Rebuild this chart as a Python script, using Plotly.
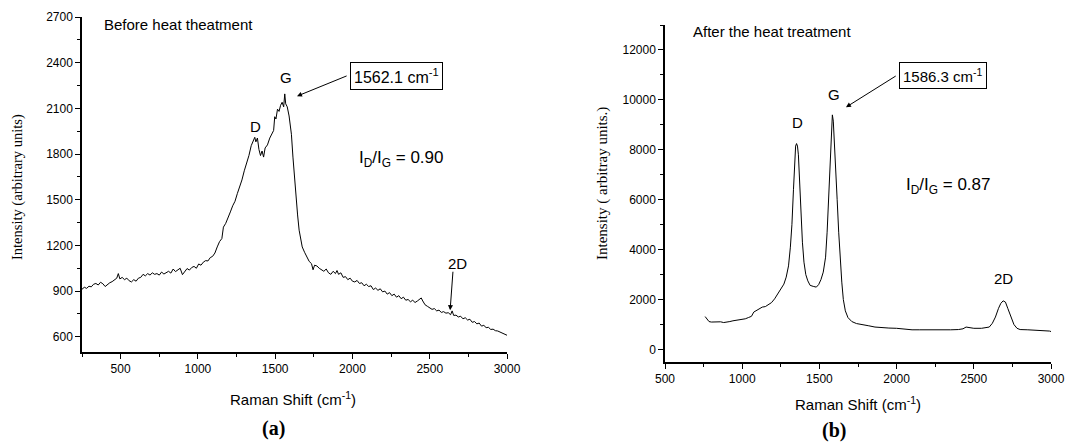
import plotly.graph_objects as go

# (a) before heat treatment
shift_a = [250, 265, 280, 295, 310, 325, 340, 355, 370, 385, 400, 415, 430, 445, 460, 475, 485, 495,
           510, 525, 540, 555, 570, 585, 600, 615, 630, 645, 660, 675, 690, 705, 720, 735, 750, 765,
           780, 795, 810, 825, 840, 855, 870, 885, 900, 915, 930, 945, 960, 975, 990, 1005, 1020,
           1035, 1050, 1065, 1080, 1095, 1110, 1125, 1140, 1155, 1165, 1180, 1195, 1210, 1225, 1240,
           1255, 1270, 1285, 1300, 1315, 1330, 1345, 1360, 1368, 1375, 1385, 1395, 1405, 1415, 1425,
           1435, 1450, 1465, 1480, 1490, 1497, 1505, 1515, 1525, 1535, 1545, 1555, 1562, 1568, 1578,
           1590, 1598, 1605, 1615, 1625, 1635, 1645, 1655, 1665, 1675, 1690, 1705, 1720, 1735, 1745,
           1755, 1770, 1785, 1800, 1815, 1830, 1845, 1860, 1875, 1890, 1900, 1910, 1925, 1940, 1955,
           1970, 1985, 2000, 2015, 2030, 2045, 2060, 2075, 2090, 2105, 2120, 2135, 2150, 2165, 2180,
           2195, 2210, 2225, 2240, 2255, 2270, 2285, 2300, 2315, 2330, 2345, 2360, 2375, 2390, 2405,
           2420, 2435, 2445, 2455, 2470, 2485, 2500, 2515, 2530, 2545, 2560, 2575, 2590, 2605, 2620,
           2635, 2645, 2655, 2670, 2685, 2700, 2715, 2730, 2745, 2760, 2775, 2790, 2805, 2820, 2835,
           2850, 2865, 2880, 2895, 2910, 2925, 2940, 2955, 2970, 2985, 3000]
intensity_a = [912, 925, 918, 932, 928, 945, 950, 940, 958, 948, 930, 945, 955, 962, 975, 985, 1015, 980,
               990, 975, 985, 968, 960, 975, 965, 985, 990, 1010, 1000, 1015, 1005, 1020, 1010, 1015, 1005, 1025,
               1012, 1020, 1030, 1018, 1045, 1028, 1040, 1050, 1008, 1030, 1048, 1038, 1055, 1062, 1050, 1078, 1070,
               1090, 1100, 1098, 1120, 1128, 1150, 1190, 1225, 1245, 1320, 1345, 1390, 1420, 1460, 1490,
               1540, 1580, 1630, 1690, 1735, 1790, 1855, 1895, 1910, 1880, 1905, 1830, 1790, 1820, 1780,
               1840, 1860, 1905, 1940, 1955, 2045, 2030, 2095, 2080, 2120, 2140, 2110, 2195, 2130, 2110,
               2050, 2000, 1930, 1780, 1640, 1520, 1400, 1300, 1240, 1190, 1155, 1120, 1095, 1080, 1040,
               1070, 1065, 1050, 1040, 1030, 1045, 1020, 1010, 1030, 1015, 1035, 1010, 1020, 990, 995,
               975, 985, 965, 960, 970, 950, 955, 935, 945, 930, 935, 910, 920, 905, 915,
               895, 900, 880, 890, 870, 880, 860, 870, 850, 860, 840, 845, 830, 840, 825,
               835, 850, 855, 835, 810, 800, 790, 780, 785, 770, 775, 760, 765, 755, 758,
               745, 770, 740, 742, 730, 735, 718, 725, 710, 715, 695, 700, 685, 690, 670,
               675, 660, 662, 648, 650, 640, 638, 630, 625, 618, 610]

# (b) after heat treatment
shift_b = [760, 770, 785, 800, 820, 840, 860, 880, 900, 920, 940, 960, 980, 1000, 1020, 1040, 1060, 1075,
           1090, 1110, 1130, 1150, 1170, 1190, 1210, 1230, 1250, 1270, 1285, 1300, 1312, 1322, 1332, 1340,
           1346, 1352, 1358, 1364, 1372, 1380, 1390, 1400, 1412, 1425, 1440, 1460, 1480, 1495, 1510, 1525,
           1540, 1550, 1560, 1570, 1578, 1584, 1590, 1597, 1605, 1615, 1625, 1635, 1645, 1655, 1668, 1685,
           1710, 1740, 1780, 1820, 1860, 1900, 1950, 2000, 2060, 2100, 2150, 2200, 2250, 2300, 2350, 2400,
           2430, 2450, 2470, 2500, 2550, 2600, 2620, 2640, 2660, 2675, 2690, 2705, 2720, 2740, 2760, 2780,
           2800, 2850, 2900, 2950, 2990, 3000]
intensity_b = [1320, 1250, 1120, 1100, 1110, 1100, 1110, 1080, 1090, 1120, 1150, 1170, 1180, 1200, 1230, 1280, 1330, 1500,
               1560, 1640, 1700, 1720, 1790, 1880, 2030, 2210, 2420, 2620, 2900, 3350, 4100, 5000, 6400, 7600,
               8150, 8250, 8150, 7800, 6700, 5500, 4300, 3500, 3000, 2750, 2570, 2530, 2500, 2600, 2800, 3100,
               3700, 4700, 6200, 7900, 8900, 9400, 9150, 8400, 7300, 6000, 4700, 3600, 2700, 2000, 1550, 1280,
               1120, 1040, 980, 950, 900, 870, 860, 850, 800, 790, 790, 785, 780, 790, 790, 800,
               830, 900, 880, 850, 850, 900, 1050, 1300, 1650, 1850, 1950, 1900, 1650, 1300, 1000, 850,
               800, 790, 780, 770, 740, 720]

W, H = 1088, 443
OFF = 8  # page body margin: the figure starts 8px in from the window corner
sans = "Liberation Sans, Arial"
serif = "Liberation Serif, Times New Roman"


def px(x):
    return (x - OFF) / W


def py(y):
    return 1 - (y - OFF) / H


fig = go.Figure()
fig.add_trace(go.Scatter(x=shift_a, y=intensity_a, mode="lines",
                         line=dict(color="black", width=1), xaxis="x", yaxis="y"))
fig.add_trace(go.Scatter(x=shift_b, y=intensity_b, mode="lines",
                         line=dict(color="black", width=1), xaxis="x2", yaxis="y2"))


def axis(rng, dtick, minor, tick0=0):
    return dict(range=rng, dtick=dtick, tick0=tick0, showline=True, linecolor="black", linewidth=1.5,
                ticks="outside", ticklen=5, tickwidth=1, tickcolor="black", showgrid=False,
                zeroline=False, automargin=False, tickformat="d",
                tickfont=dict(family=sans, size=12, color="black"),
                minor=dict(ticks="outside", ticklen=3, tickwidth=1, tickcolor="black", dtick=minor,
                           showgrid=False))


ann = []


def txt(x, y, s, xref, yref, size=15, family=sans, xanchor="center", **kw):
    ann.append(dict(x=x, y=y, text=s, xref=xref, yref=yref, showarrow=False, xanchor=xanchor,
                    yanchor="middle", font=dict(family=family, size=size, color="black"), **kw))


def arrow(x, y, ax, ay, xref, yref):
    ann.append(dict(x=x, y=y, ax=ax, ay=ay, xref=xref, yref=yref, axref=xref, ayref=yref, text="",
                    showarrow=True, arrowhead=2, arrowsize=1, arrowwidth=1, arrowcolor="black"))


# panel (a)
txt(379, 2652, "Before heat theatment", "x", "y", xanchor="left")
txt(1370, 1983, "D", "x", "y")
txt(1570, 2304, "G", "x", "y")
txt(2286, 2314, "1562.1 cm<sup>-1</sup>", "x", "y", size=16, bordercolor="black", borderwidth=1,
    borderpad=3, bgcolor="white")
arrow(1641, 2180, 1972, 2317, "x", "y")
txt(2315, 1766, "I<sub>D</sub>/I<sub>G</sub> = 0.90", "x", "y", size=17)
txt(2677, 1080, "2D", "x", "y")
arrow(2632, 775, 2651, 1037, "x", "y")

# panel (b)
txt(668, 12723, "After the heat treatment", "x2", "y2", xanchor="left")
txt(1355, 9103, "D", "x2", "y2")
txt(1596, 10229, "G", "x2", "y2")
txt(2298, 10974, "1586.3 cm<sup>-1</sup>", "x2", "y2", size=15, bordercolor="black", borderwidth=1,
    borderpad=3, bgcolor="white")
arrow(1672, 9706, 2004, 10993, "x2", "y2")
txt(2335, 6570, "I<sub>D</sub>/I<sub>G</sub> = 0.87", "x2", "y2", size=17)
txt(2692, 2830, "2D", "x2", "y2")

# axis titles and panel letters
txt(px(17), py(187), "Intensity (arbitrary units)", "paper", "paper", size=14.5, family=serif,
    textangle=-90)
txt(px(602), py(184), "Intensity ( arbitray units.)", "paper", "paper", size=15, family=serif,
    textangle=-90)
txt(px(293), py(398), "Raman Shift (cm<sup>-1</sup>)", "paper", "paper")
txt(px(858), py(403), "Raman Shift (cm<sup>-1</sup>)", "paper", "paper")
txt(px(273), py(428), "<b>(a)</b>", "paper", "paper", size=20, family=serif)
txt(px(834), py(430), "<b>(b)</b>", "paper", "paper", size=20, family=serif)

fig.update_layout(
    template="none",
    width=W, height=H, margin=dict(l=0, r=0, t=0, b=0, pad=0, autoexpand=False),
    paper_bgcolor="white", plot_bgcolor="white", showlegend=False,
    xaxis=dict(axis([250, 3000], 500, 250), domain=[px(82), px(507)], anchor="y"),
    yaxis=dict(axis([500, 2700], 300, 150, tick0=600), domain=[py(352), py(17)], anchor="x"),
    xaxis2=dict(axis([500, 3000], 500, 250), domain=[px(665), px(1051)], anchor="y2"),
    yaxis2=dict(axis([-500, 13000], 2000, 1000), domain=[py(362), py(25)], anchor="x2"),
    annotations=ann,
)

fig.write_html("out.html")
